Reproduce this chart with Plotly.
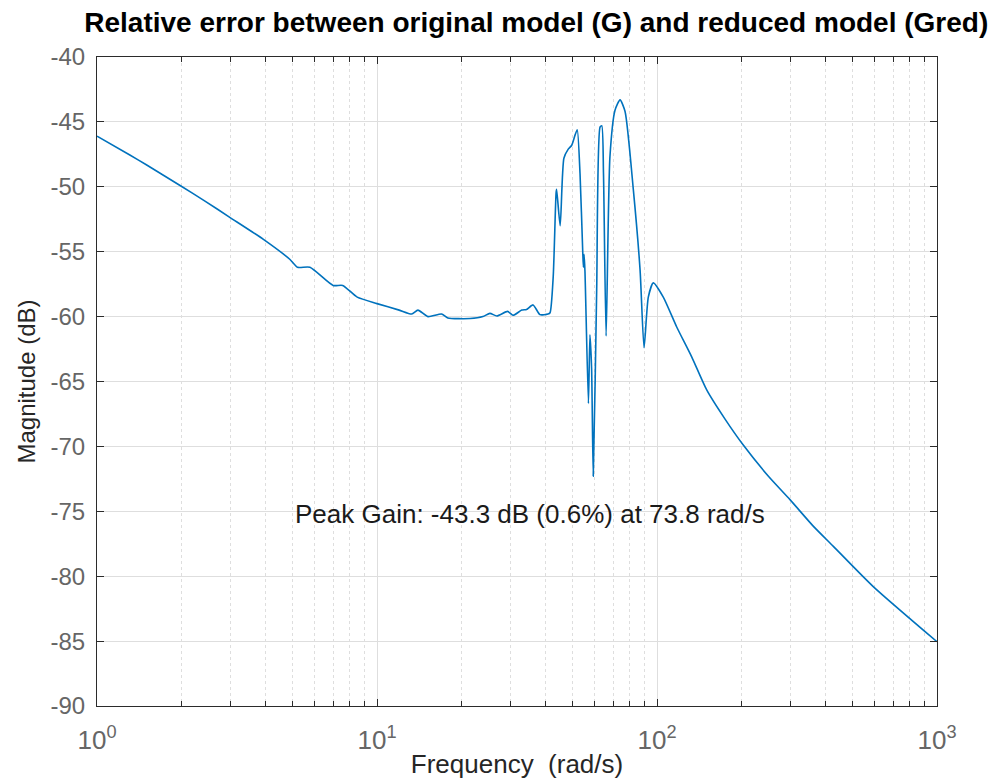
import math
import plotly.graph_objects as go

# Frequency (rad/s) and relative error magnitude (dB)
freq = [1.0, 1.31, 1.5, 1.98, 2.43, 2.98, 3.93, 4.89, 5.2, 5.76, 6.97, 7.54, 8.5,
        10.0, 12.0, 13.3, 14.0, 15.2, 17.0, 17.9, 21.5, 23.9, 25.3, 26.8, 29.3,
        30.6, 32.9, 34.2, 36.1, 38.2, 40.8, 41.5, 42.6, 43.6, 43.8, 45.1, 46.5,
        48.2, 49.6, 51.0, 51.9, 53.1, 54.3, 54.6, 54.9, 55.3, 56.9, 57.6, 58.4,
        59.2, 60.9, 62.6, 63.5, 64.4, 65.8, 67.9, 70.8, 73.8, 76.9, 82.3, 87.0,
        89.9, 93.1, 97.0, 105.3, 117.6, 133.0, 150.5, 175.0, 203.3, 250.0, 298.5,
        360.0, 426.5, 592.0, 1000.0]
mag_db = [-46.1, -47.55, -48.3, -49.9, -51.1, -52.35, -54.05, -55.6, -56.2, -56.2,
          -57.6, -57.6, -58.5, -59.0, -59.5, -59.8, -59.5, -60.0, -59.8, -60.1,
          -60.15, -60.0, -59.75, -59.95, -59.6, -59.9, -59.5, -59.45, -59.1,
          -59.85, -59.8, -59.7, -56.9, -50.5, -50.2, -53.0, -47.8, -47.1, -46.8,
          -46.0, -45.6, -49.0, -55.0, -56.2, -55.2, -56.5, -66.7, -61.4, -64.0,
          -72.3, -57.9, -45.4, -45.3, -49.0, -61.5, -47.7, -44.1, -43.3, -44.2,
          -50.2, -56.4, -62.4, -58.5, -57.4, -58.5, -60.8, -63.1, -65.65, -67.9,
          -69.9, -72.3, -74.1, -76.1, -77.7, -80.8, -85.05]

x_tickvals = [1, 10, 100, 1000]
x_ticktext = ["10<sup>0</sup>", "10<sup>1</sup>", "10<sup>2</sup>", "10<sup>3</sup>"]
x_minorvals = [m * d for d in (1, 10, 100) for m in range(2, 10)]
y_tickvals = [-90, -85, -80, -75, -70, -65, -60, -55, -50, -45, -40]
y_ticktext = [str(v) for v in y_tickvals]

title_text = "Relative error between original model (G) and reduced model (Gred)"
peak_text = "Peak Gain: -43.3 dB (0.6%) at 73.8 rad/s"
peak_label_freq = 35.2
peak_label_db = -75.2

font_family = "Liberation Sans, Arial, sans-serif"
axis_col = "#2b2b2b"
tick_col = "#666666"
grid_col = "#dedede"

fig = go.Figure()
fig.add_trace(go.Scatter(
    x=freq, y=mag_db, mode="lines",
    line=dict(color="#0072BD", width=1.6, shape="spline", smoothing=0.6),
    showlegend=False, hoverinfo="x+y",
))

fig.add_annotation(
    x=math.log10(peak_label_freq), y=peak_label_db, xref="x", yref="y",
    text=peak_text, showarrow=False,
    font=dict(family=font_family, size=26, color="#1a1a1a"),
)

fig.update_layout(
    width=993, height=775,
    paper_bgcolor="white", plot_bgcolor="white",
    margin=dict(l=89, r=64, t=49, b=77),
    title=dict(text="<b>" + title_text + "</b>", x=0.532, xanchor="center",
               y=0.982, yanchor="middle",
               font=dict(family=font_family, size=28, color="#000000")),
    font=dict(family=font_family),
)

fig.update_xaxes(
    type="log", range=[0, 3], automargin=False,
    tickvals=x_tickvals, ticktext=x_ticktext,
    tickfont=dict(size=26, color=tick_col),
    ticks="inside", ticklen=7, tickcolor=axis_col, ticklabelstandoff=11,
    showline=True, mirror="allticks", linecolor=axis_col, linewidth=1,
    showgrid=True, gridcolor=grid_col, gridwidth=1,
    minor=dict(tickvals=x_minorvals, ticks="inside", ticklen=5, tickcolor=axis_col,
               showgrid=True, gridcolor=grid_col, griddash="dot", gridwidth=1),
    zeroline=False,
    title=dict(text="Frequency&nbsp;&nbsp;(rad/s)", standoff=0,
               font=dict(size=26, color="#262626")),
)
fig.update_yaxes(
    range=[-90, -40], tickvals=y_tickvals, ticktext=y_ticktext, automargin=False,
    tickfont=dict(size=24, color=tick_col),
    ticks="inside", ticklen=7, tickcolor=axis_col, ticklabelstandoff=6,
    showline=True, mirror="allticks", linecolor=axis_col, linewidth=1,
    showgrid=True, gridcolor=grid_col, gridwidth=1,
    zeroline=False,
    title=dict(text="Magnitude (dB)", standoff=8,
               font=dict(size=24, color="#262626")),
)

fig.write_html("out.html")
